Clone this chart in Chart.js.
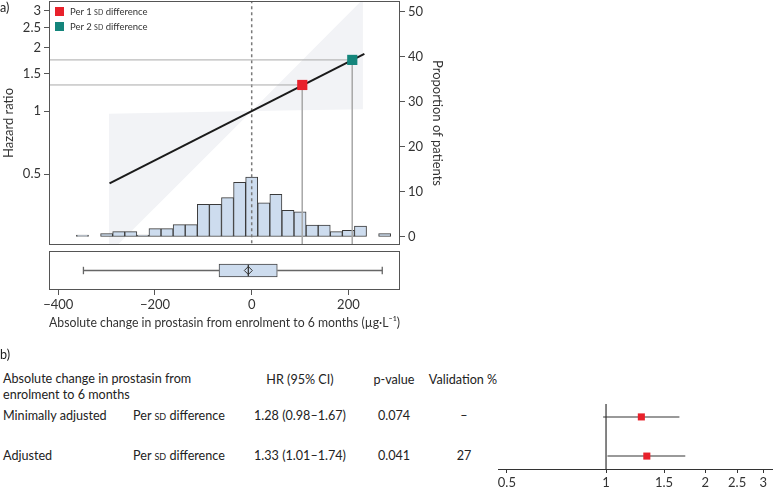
<!DOCTYPE html>
<html>
<head>
<meta charset="utf-8">
<script src="https://cdn.jsdelivr.net/npm/chart.js"></script>
<style>
  body { margin: 0; width: 777px; height: 493px; position: relative; overflow: hidden; background: #fff;
         font-family: Lato, sans-serif; color: #222; }
  canvas { position: absolute; }
  .t { position: absolute; font-size: 12.6px; line-height: 16px; white-space: nowrap; }
  .leg { font-size: 9.5px; line-height: 12px; color: #333; }
  .sc { font-variant: small-caps; }
  .sq { position: absolute; width: 9px; height: 9px; }
</style>
</head>
<body>
<canvas id="top" width="460" height="268" style="left:0;top:-11px"></canvas>
<canvas id="box" width="460" height="86" style="left:0;top:246px"></canvas>
<canvas id="forest" width="297" height="98" style="left:480px;top:395px"></canvas>
<script>
// histogram of the absolute change (bin centres, % of patients)
const binCenters = [-350, -325, -300, -275, -250, -225, -200, -175, -150, -125, -100, -75, -50,
                    -25, 0, 25, 50, 75, 100, 125, 150, 175, 200, 225, 250, 275];
const binPct = [0.4, null, 0.75, 1.2, 1.2, 0.45, 1.85, 1.85, 2.75, 2.75, 7.25, 7.25, 8.75,
                12.15, 13.3, 7.6, 9.5, 5.9, 5.6, 2.65, 2.65, 1.2, 1.5, 2.45, null, 0.75];

// fitted hazard ratio and its confidence band
const fitX = [-294, 233];
const fitHR = [0.453, 1.87];
const bandX = [-295, 0, 230];
const bandLow = [0.21, 1.0, 1.02];
const bandHigh = [0.97, 1.0, 3.4];

// per 1 / per 2 SD markers
const sdX = [104.6, 208];
const sdHR = [1.33, 1.75];
const sdColors = ['#e8212b', '#14857b'];
const sdLabels = ['Per 1 <span class="sc">sd</span> difference', 'Per 2 <span class="sc">sd</span> difference'];

// box plot of the change
const whiskers = [-348, 270];
const quartiles = [-67.6, 52.9];
const median = -7;
const mean = -7;

const hrTicks = [0.5, 1, 1.5, 2, 2.5, 3];
const pctTicks = [0, 10, 20, 30, 40, 50];
const xTicks = [-400, -200, 0, 200];

// panel b
const models = ['Minimally adjusted', 'Adjusted'];
const modelHR = [1.28, 1.33];
const modelLo = [0.98, 1.01];
const modelHi = [1.67, 1.74];
const modelP = ['0.074', '0.041'];
const modelValidation = ['–', '27'];
const forestTicks = [0.5, 1, 1.5, 2, 2.5, 3];

Chart.defaults.font.family = 'Lato';
Chart.defaults.font.size = 13;
Chart.defaults.color = '#333';

const X_MIN = -419.2, X_MAX = 306.7;
const HR_MIN = 0.2305, HR_MAX = 3.336;

const frame = {
  id: 'frame',
  afterDraw(chart) {
    const { ctx, chartArea: a } = chart;
    ctx.save();
    ctx.strokeStyle = '#555';
    ctx.lineWidth = 1;
    ctx.strokeRect(Math.round(a.left) + 0.5, Math.round(a.top) + 0.5,
                   Math.round(a.right - a.left) - 1, Math.round(a.bottom - a.top) - 1);
    ctx.restore();
  }
};

const pts = (xs, ys) => xs.map((x, i) => ({ x, y: ys[i] }));
const minusLabel = v => (v < 0 ? '\u2212' + Math.abs(v) : String(v));

// ---- panel a, top: hazard ratio + histogram
new Chart(document.getElementById('top'), {
  type: 'line',
  data: {
    datasets: [
      { data: pts(bandX, bandLow), yAxisID: 'hr', borderWidth: 0, pointRadius: 0, fill: false, order: 30 },
      { data: pts(bandX, bandHigh), yAxisID: 'hr', borderWidth: 0, pointRadius: 0, fill: '-1',
        backgroundColor: '#f2f3f6', order: 29 },
      { type: 'bar', data: pts(binCenters, binPct), yAxisID: 'pct', backgroundColor: '#cddcee',
        borderColor: '#3a3a3a', borderWidth: 1, borderSkipped: false,
        barPercentage: 1, categoryPercentage: 1, order: 20 },
      { data: [{ x: 0, y: 0.1 }, { x: 0, y: 5 }], yAxisID: 'hr', borderColor: '#7a7a7a',
        borderWidth: 1.5, borderDash: [3, 3], pointRadius: 0, order: 5 },
      ...sdX.map((x, i) => ({
        data: [{ x: X_MIN - 5, y: sdHR[i] }, { x, y: sdHR[i] }, { x, y: 0.1 }], yAxisID: 'hr',
        borderColor: '#a9a9a9', borderWidth: 1, pointRadius: 0, order: 4
      })),
      { data: pts(fitX, fitHR), yAxisID: 'hr', borderColor: '#1a1a1a', borderWidth: 2,
        pointRadius: 0, order: 2 },
      { data: pts(sdX, sdHR), yAxisID: 'hr', showLine: false, pointStyle: 'rect', pointRadius: 7.2,
        pointBackgroundColor: sdColors, pointBorderWidth: 0, order: 1 }
    ]
  },
  options: {
    responsive: false,
    animation: false,
    layout: { padding: { top: 12, bottom: 12, left: 0, right: 0 } },
    plugins: { legend: { display: false }, tooltip: { enabled: false } },
    scales: {
      x: { type: 'linear', min: X_MIN, max: X_MAX, offset: false, display: false },
      hr: {
        type: 'logarithmic', position: 'left', min: HR_MIN, max: HR_MAX,
        afterBuildTicks: s => { s.ticks = hrTicks.map(v => ({ value: v })); },
        afterFit: s => { s.width = 49; },
        ticks: { callback: v => String(v), autoSkip: false, padding: 3 },
        grid: { drawOnChartArea: false, tickLength: 5, color: '#555' },
        border: { display: false },
        title: { display: true, text: 'Hazard ratio', padding: { top: 1, bottom: 0 } }
      },
      pct: {
        type: 'linear', position: 'right', min: -1.78, max: 52.44,
        afterBuildTicks: s => { s.ticks = pctTicks.map(v => ({ value: v })); },
        afterFit: s => { s.width = 60; },
        ticks: { autoSkip: false, padding: 3 },
        grid: { drawOnChartArea: false, tickLength: 5, color: '#555' },
        border: { display: false },
        title: { display: true, text: 'Proportion of patients', padding: { top: 15, bottom: 0 } }
      }
    }
  },
  plugins: [frame]
});

// ---- panel a, bottom: box plot with x axis
const capH = 0.19, medH = 0.3;
new Chart(document.getElementById('box'), {
  type: 'line',
  data: {
    datasets: [
      { type: 'bar', indexAxis: 'y', data: [{ y: 0, x: quartiles }], backgroundColor: '#cddcee',
        borderColor: '#444', borderWidth: 1, borderSkipped: false, barThickness: 13, order: 5 },
      { data: [{ x: whiskers[0], y: 0 }, { x: quartiles[0], y: 0 }], borderColor: '#666', borderWidth: 1.3, pointRadius: 0 },
      { data: [{ x: quartiles[1], y: 0 }, { x: whiskers[1], y: 0 }], borderColor: '#666', borderWidth: 1.3, pointRadius: 0 },
      ...whiskers.map(w => ({ data: [{ x: w, y: -capH }, { x: w, y: capH }], borderColor: '#666',
        borderWidth: 1.3, pointRadius: 0 })),
      { data: [{ x: median, y: -medH }, { x: median, y: medH }], borderColor: '#333', borderWidth: 1.3,
        pointRadius: 0, order: 1 },
      { data: [{ x: mean, y: 0 }], showLine: false, pointStyle: 'rectRot', pointRadius: 4,
        pointBackgroundColor: 'rgba(0,0,0,0)', pointBorderColor: '#333', pointBorderWidth: 1, order: 0 }
    ]
  },
  options: {
    responsive: false,
    animation: false,
    layout: { padding: { top: 1, bottom: 0, left: 49, right: 60 } },
    plugins: { legend: { display: false }, tooltip: { enabled: false } },
    scales: {
      x: {
        type: 'linear', min: X_MIN, max: X_MAX, offset: false,
        afterBuildTicks: s => { s.ticks = xTicks.map(v => ({ value: v })); },
        afterFit: s => { s.height = 42; },
        ticks: { callback: minusLabel, autoSkip: false, maxRotation: 0, padding: 2 },
        grid: { drawOnChartArea: false, tickLength: 5, color: '#555' },
        border: { display: false },
        title: { display: true, text: 'Absolute change in prostasin from enrolment to 6 months (\u00b5g\u00b7L\u207b\u00b9)',
                 font: { size: 13.4 }, padding: { top: 0, bottom: 1 } }
      },
      y: { type: 'linear', min: -1, max: 1, offset: false, display: false }
    }
  },
  plugins: [frame]
});

// ---- panel b: forest plot
new Chart(document.getElementById('forest'), {
  type: 'line',
  data: {
    datasets: [
      { data: [{ x: 1, y: -1 }, { x: 1, y: 3 }], borderColor: '#333', borderWidth: 1.2, pointRadius: 0 },
      ...models.map((m, i) => ({ data: [{ x: modelLo[i], y: i }, { x: modelHi[i], y: i }],
        borderColor: '#777', borderWidth: 1.5, pointRadius: 0 })),
      { data: models.map((m, i) => ({ x: modelHR[i], y: i })), showLine: false, pointStyle: 'rect',
        pointRadius: 5, pointBackgroundColor: '#e8212b', pointBorderWidth: 0, order: -1 }
    ]
  },
  options: {
    responsive: false,
    animation: false,
    layout: { padding: { top: 9, bottom: 0, left: 18, right: 0 } },
    plugins: { legend: { display: false }, tooltip: { enabled: false } },
    scales: {
      x: {
        type: 'logarithmic', min: 0.47, max: 3.19,
        afterBuildTicks: s => { s.ticks = forestTicks.map(v => ({ value: v })); },
        afterFit: s => { s.height = 24; },
        ticks: { callback: v => String(v), autoSkip: false, maxRotation: 0, padding: 2 },
        grid: { drawOnChartArea: false, tickLength: 4, color: '#333' },
        border: { display: true, color: '#333', width: 1 }
      },
      y: { type: 'linear', reverse: true, min: -0.33, max: 1.33, display: false }
    }
  }
});

// ---- text
function addText(html, x, y, align, cls) {
  const d = document.createElement('div');
  d.className = 't' + (cls ? ' ' + cls : '');
  d.innerHTML = html;
  d.style.left = x + 'px';
  d.style.top = (y - 8) + 'px';
  if (align === 'center') d.style.transform = 'translateX(-50%)';
  document.body.appendChild(d);
  return d;
}

addText('a)', 0, 8);
addText('b)', 0, 355);

sdLabels.forEach((lab, i) => {
  const sq = document.createElement('div');
  sq.className = 'sq';
  sq.style.left = '55px';
  sq.style.top = (7 + i * 14.5) + 'px';
  sq.style.background = sdColors[i];
  document.body.appendChild(sq);
  const d = addText(lab, 70, 12 + i * 14.5, 'left', 'leg');
  d.style.top = (12 + i * 14.5 - 6) + 'px';
});

addText('Absolute change in prostasin from', 3, 379);
addText('enrolment to 6 months', 3, 395);
addText('HR (95% CI)', 300, 380, 'center');
addText('p-value', 394, 380, 'center');
addText('Validation %', 463, 380, 'center');

const rowY = [416, 456];
models.forEach((m, i) => {
  addText(m, 3, rowY[i]);
  addText('Per <span class="sc">sd</span> difference', 133, rowY[i]);
  addText(modelHR[i].toFixed(2) + ' (' + modelLo[i].toFixed(2) + '\u2013' + modelHi[i].toFixed(2) + ')',
          300, rowY[i], 'center');
  addText(modelP[i], 394, rowY[i], 'center');
  addText(modelValidation[i], 464, rowY[i], 'center');
});
</script>
</body>
</html>
